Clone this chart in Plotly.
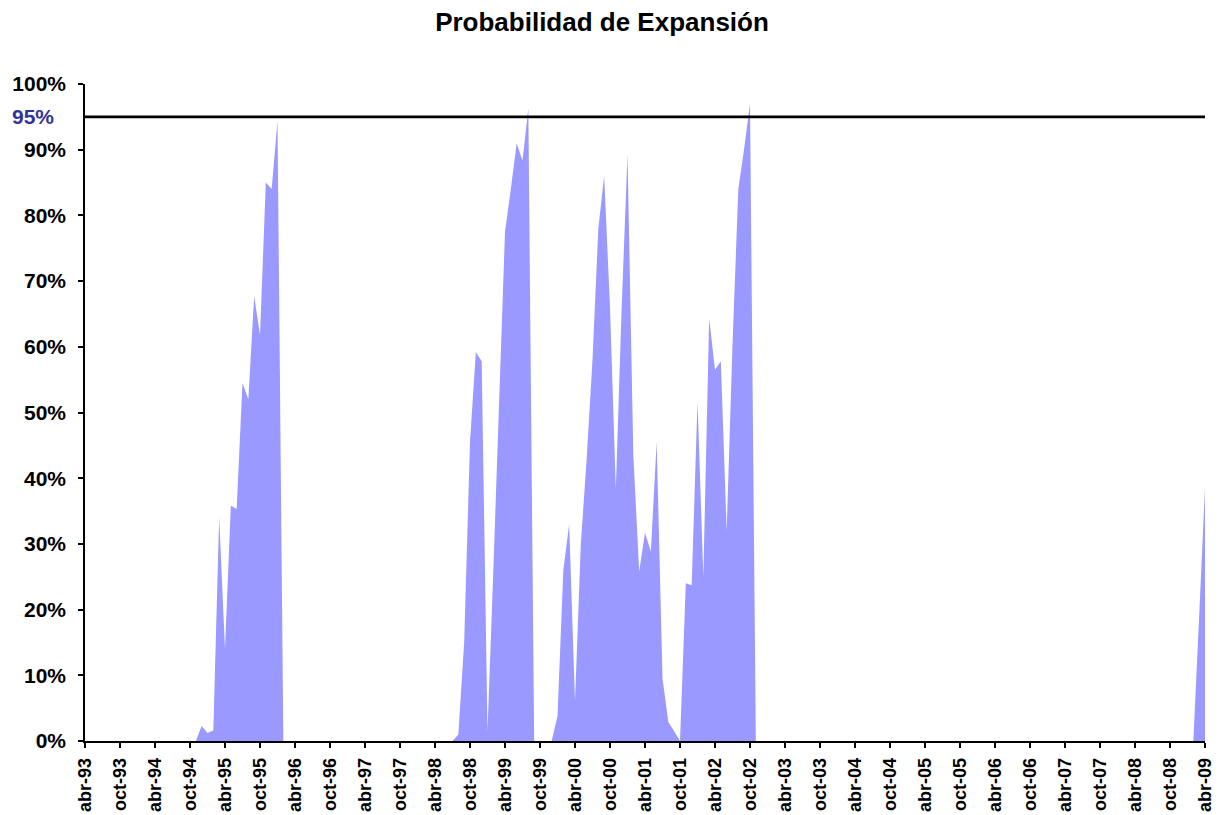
import plotly.graph_objects as go

# ---- data -------------------------------------------------------------
month_abbr = ["ene", "feb", "mar", "abr", "may", "jun",
              "jul", "ago", "sep", "oct", "nov", "dic"]
start_year, start_month = 1993, 4   # abr-93
n_months = 193                      # abr-93 .. abr-09

# categories: monthly labels abr-93 ... abr-09
categories = []
for i in range(n_months):
    mi = (start_month - 1 + i) % 12
    yr = start_year + (start_month - 1 + i) // 12
    categories.append(f"{month_abbr[mi]}-{yr % 100:02d}")

# probability of expansion (%), one value per month
prob_1993_1996 = [0] * 20 + [2.3, 1.2, 1.6, 34, 14, 35.8, 35.3, 54.5, 52, 67.7,
                             61.8, 85, 84, 94.4]                       # m 0..33
prob_1996_1998 = [0] * 30                                              # m 34..63
prob_1998_2002 = [1.0, 15, 45.5, 59.2, 57.8, 1.5, 26, 51, 77.5, 84,
                  91, 88.3, 96.3, 0, 0, 0, 0, 3.8, 26, 33,
                  6, 30, 43, 58, 78, 86, 66, 38.3, 66, 89.3,
                  43.5, 25.8, 31.7, 28.8, 45.5, 9.5, 2.9, 1.5, 0, 24,
                  23.7, 51.7, 25, 64.3, 56.5, 57.8, 32, 60.3, 84, 90.2,
                  97]                                                  # m 64..114
prob_2002_2009 = [0] * 76 + [19, 38.5]                                 # m 115..192

probability = prob_1993_1996 + prob_1996_1998 + prob_1998_2002 + prob_2002_2009
probability = [v / 100 for v in probability]

tick_labels = ["abr-93", "oct-93", "abr-94", "oct-94", "abr-95", "oct-95",
               "abr-96", "oct-96", "abr-97", "oct-97", "abr-98", "oct-98",
               "abr-99", "oct-99", "abr-00", "oct-00", "abr-01", "oct-01",
               "abr-02", "oct-02", "abr-03", "oct-03", "abr-04", "oct-04",
               "abr-05", "oct-05", "abr-06", "oct-06", "abr-07", "oct-07",
               "abr-08", "oct-08", "abr-09"]

threshold = 0.95
threshold_label = "95%"

# ---- figure -----------------------------------------------------------
FONT = "Liberation Sans, Arial, sans-serif"

fig = go.Figure()
fig.add_trace(go.Scatter(
    x=categories, y=probability,
    mode="lines", line=dict(width=0, color="#9999FF"),
    fill="tozeroy", fillcolor="#9999FF",
    hoverinfo="x+y", showlegend=False,
))

fig.add_shape(type="line", xref="paper", x0=0, x1=1, yref="y",
              y0=threshold, y1=threshold,
              line=dict(color="black", width=2.8))

fig.add_annotation(xref="paper", x=0, yref="y", y=threshold,
                   text=f"<b>{threshold_label}</b>", showarrow=False,
                   xanchor="right", yanchor="middle", xshift=-29,
                   font=dict(family=FONT, size=21, color="#333399"))

fig.update_layout(
    width=1222, height=815,
    margin=dict(l=77, r=25, t=76, b=82, autoexpand=False),
    paper_bgcolor="white", plot_bgcolor="white",
    title=dict(text="<b>Probabilidad de Expansión</b>",
               x=594 / 1222, xref="container", xanchor="center",
               y=1 - 14 / 815, yref="container", yanchor="middle",
               font=dict(family=FONT, size=26, color="black")),
    font=dict(family=FONT, color="black"),
)

fig.update_xaxes(
    type="category", range=[0, n_months - 1],
    tickmode="array", tickvals=categories[::6], ticktext=tick_labels,
    tickangle=-90, ticks="outside", ticklen=5, tickwidth=1.5, tickcolor="black",
    showline=True, linecolor="black", linewidth=1.5,
    showgrid=False, zeroline=False,
    ticklabelstandoff=3,
    tickfont=dict(family=FONT, size=18, color="black", weight="bold"),
)

fig.update_yaxes(
    range=[0, 1], dtick=0.1, tickformat=".0%",
    ticks="outside", ticklen=5, tickwidth=1.5, tickcolor="black",
    showline=True, linecolor="black", linewidth=1.5,
    showgrid=False, zeroline=False,
    ticklabelstandoff=8,
    tickfont=dict(family=FONT, size=21, color="black", weight="bold"),
)

fig.write_html("out.html")
